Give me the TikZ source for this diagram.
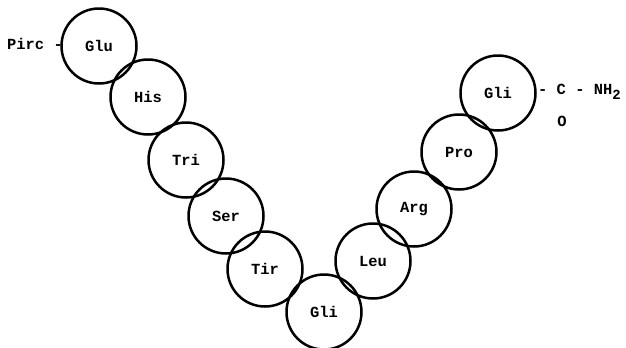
\documentclass[tikz,border=0pt]{standalone}
\usepackage{fontspec}
\setmonofont{Liberation Mono}
\begin{document}
\begin{tikzpicture}[x=1bp,y=-1bp,
  res/.style={circle,draw,line width=2.5bp,minimum size=75bp,inner sep=0pt,font=\ttfamily\bfseries\fontsize{15.5}{15.5}\selectfont},
  lbl/.style={inner sep=0pt,font=\ttfamily\bfseries\fontsize{15.5}{15.5}\selectfont}]
\useasboundingbox (0,0) rectangle (626,347);
\node[res] (glu) at (99,46) {Glu};
\node[res] (his) at (148,97) {His};
\node[res] (tri) at (186,160) {Tri};
\node[res] (ser) at (226,216) {Ser};
\node[res] (tir) at (265,269) {Tir};
\node[res] (gli1) at (324,312) {Gli};
\node[res] (leu) at (373,261) {Leu};
\node[res] (arg) at (414,209) {Arg};
\node[res] (pro) at (459,152) {Pro};
\node[res] (gli2) at (498,93) {Gli};
\node[lbl,anchor=east] (pirc) at (63,44) {Pirc -};
\node[lbl,anchor=west] (cterm) at (538,92) {- C - NH\raisebox{-5bp}{\fontsize{14}{14}\selectfont 2}};
\node[lbl] (oxy) at (562,121) {O};
\end{tikzpicture}
\end{document}
